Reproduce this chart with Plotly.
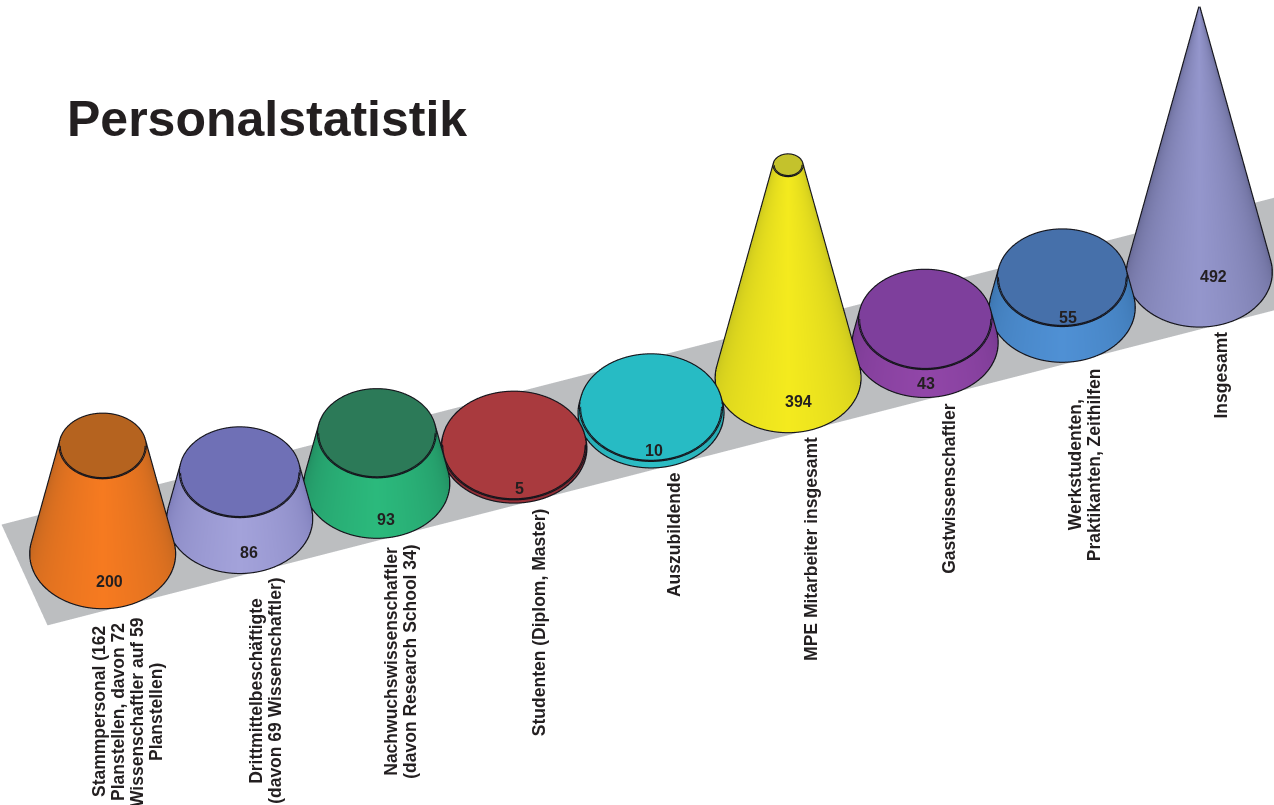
import numpy as np
import plotly.graph_objects as go

# ---- data ----
categories = [
    ["Stammpersonal (162", "Planstellen, davon 72", "Wissenschaftler auf 59", "Planstellen)"],
    ["Drittmittelbeschäftigte", "(davon 69 Wissenschaftler)"],
    ["Nachwuchswissenschaftler", "(davon Research School 34)"],
    ["Studenten (Diplom, Master)"],
    ["Auszubildende"],
    ["MPE Mitarbeiter insgesamt"],
    ["Gastwissenschaftler"],
    ["Werkstudenten,", "Praktikanten, Zeithilfen"],
    ["Insgesamt"],
]
values = [200, 86, 93, 5, 10, 394, 43, 55, 492]

side_light = ["#F67A20", "#A3A2DA", "#2BB97C", "#9A3038", "#2CBEC6", "#F4EA1E", "#9146A8", "#4F90D4", "#9496CC"]
side_dark = ["#A85C20", "#6E6EAC", "#1E7A55", "#5E1E26", "#1F8F96", "#B4B41E", "#6A3384", "#33689E", "#565880"]
cap_color = ["#B5631F", "#6F70B6", "#2C7A58", "#A93A3E", "#27BBC4", "#C4C22C", "#7E3F9C", "#4670AA", "#9496CC"]
strip_color = "#BCBEC0"
text_color = "#231F20"

value_shift = [(7, 28), (9, 34), (9, 36), (6, 40), (3, 37), (10, 24), (1, 41), (6, 10), (14, 4)]
label_shift = [(25, 158), (25, 172), (24, 178), (25, 174), (23, 122), (23, 171), (23, 146), (23, 157), (22, 103)]
LINE_STEP = 19.0

# ---- view ----
K = 0.36                     # scene units per category step
R = 0.5                      # base radius in category steps
X_RANGE = [-1.0, 9.5]
Y_RANGE = [-1.0, 1.0]
Z_RANGE = [-5.0, 492.0]
H_UNITS = 2.77               # apex height in category steps
THETA = np.radians(18.9)
ELEV = np.radians(48.6)
PX_PER_SCENE = 144.8 / K
ZOOM_DIST = 2.5

vmax = max(values)
aspect = dict(
    x=(X_RANGE[1] - X_RANGE[0]) * K,
    y=(Y_RANGE[1] - Y_RANGE[0]) * K,
    z=H_UNITS * K * (Z_RANGE[1] - Z_RANGE[0]) / vmax,
)


def to_scene(x, y, z):
    return np.array([
        (x - sum(X_RANGE) / 2) / (X_RANGE[1] - X_RANGE[0]) * aspect["x"],
        (y - sum(Y_RANGE) / 2) / (Y_RANGE[1] - Y_RANGE[0]) * aspect["y"],
        (z - sum(Z_RANGE) / 2) / (Z_RANGE[1] - Z_RANGE[0]) * aspect["z"],
    ])


eye_dir = np.array([-np.sin(THETA) * np.cos(ELEV), -np.cos(THETA) * np.cos(ELEV), np.sin(ELEV)])
right = np.array([np.cos(THETA), -np.sin(THETA), 0.0])
up = np.cross(right, -eye_dir)
center = to_scene(4, 0, 0) - 14 / PX_PER_SCENE * right + 10.5 / PX_PER_SCENE * up
eye = center + ZOOM_DIST * eye_dir

phi0 = np.arctan2(eye_dir[1], eye_dir[0])
slope = R / H_UNITS
phi_s = np.arccos(-eye_dir[2] * slope / np.hypot(eye_dir[0], eye_dir[1]))

FLAT = dict(ambient=1, diffuse=0, specular=0, fresnel=0, roughness=1)
fig = go.Figure()

# ground strip
sx, sy = np.meshgrid([-0.57, 9.5], [-0.49, 0.49])
fig.add_trace(go.Surface(x=sx, y=sy, z=np.full(sx.shape, -2.0), surfacecolor=np.zeros(sx.shape),
                         colorscale=[[0, strip_color], [1, strip_color]], showscale=False,
                         lighting=FLAT, hoverinfo="skip"))

phi = phi0 + np.pi + np.linspace(0, 2 * np.pi, 241)
for i, v in enumerate(values):
    zs = np.linspace(0, v, 30)
    P, Z = np.meshgrid(phi, zs)
    Rad = R * (1 - Z / vmax)
    X = i + Rad * np.cos(P)
    Y = Rad * np.sin(P)
    delta = np.abs((P - phi0 + np.pi) % (2 * np.pi) - np.pi)
    shade = np.clip(1 - delta / phi_s, 0, 1) ** 0.45
    fig.add_trace(go.Surface(x=X, y=Y, z=Z, surfacecolor=shade, cmin=0, cmax=1,
                             colorscale=[[0, side_dark[i]], [1, side_light[i]]], showscale=False,
                             lighting=FLAT, hoverinfo="skip"))
    r_top = R * (1 - v / vmax)
    if r_top > 0:
        rr = np.linspace(0, r_top, 3)
        Pc, Rc = np.meshgrid(phi, rr)
        fig.add_trace(go.Surface(x=i + Rc * np.cos(Pc), y=Rc * np.sin(Pc), z=np.full(Pc.shape, float(v)),
                                 surfacecolor=np.zeros(Pc.shape),
                                 colorscale=[[0, cap_color[i]], [1, cap_color[i]]], showscale=False,
                                 lighting=FLAT, hoverinfo="skip"))
    # outline: base circle, top circle, silhouette edges
    lx, ly, lz = [], [], []
    for zz, rr_ in ((0.0, R), (float(v), r_top)):
        lx += list(i + rr_ * np.cos(phi)) + [None]
        ly += list(rr_ * np.sin(phi)) + [None]
        lz += [zz] * len(phi) + [None]
    for a in (phi0 + phi_s, phi0 - phi_s):
        lx += [i + R * np.cos(a), i + r_top * np.cos(a), None]
        ly += [R * np.sin(a), r_top * np.sin(a), None]
        lz += [0.0, float(v), None]
    fig.add_trace(go.Scatter3d(x=lx, y=ly, z=lz, mode="lines", line=dict(color="#15151c", width=4.5),
                               hoverinfo="skip", showlegend=False))

annots = []
for i, (lines, v) in enumerate(zip(categories, values)):
    annots.append(dict(x=i, y=0, z=0, text=f"<b>{v}</b>", showarrow=False,
                       xshift=value_shift[i][0], yshift=-value_shift[i][1],
                       font=dict(family="Liberation Sans", size=16, color=text_color)))
    n = len(lines)
    for j, line in enumerate(lines):
        annots.append(dict(x=i, y=0, z=0, text=f"<b>{line}</b>", showarrow=False, textangle=-90,
                           xanchor="center", yanchor="middle",
                           xshift=label_shift[i][0] + (j - (n - 1) / 2) * LINE_STEP,
                           yshift=-label_shift[i][1],
                           font=dict(family="Liberation Sans", size=17.5, color=text_color)))

hidden = dict(visible=False, showgrid=False, zeroline=False, showticklabels=False, showspikes=False)
fig.update_layout(
    width=1274, height=805, margin=dict(l=0, r=0, t=0, b=0), paper_bgcolor="white",
    showlegend=False,
    title=dict(text="<b>Personalstatistik</b>", x=67 / 1274, y=1 - 118 / 805, xanchor="left", yanchor="middle",
               xref="paper", yref="paper", font=dict(family="Liberation Sans", size=50, color=text_color)),
    scene=dict(
        domain=dict(x=[0, 1], y=[0, 1]),
        xaxis=dict(range=X_RANGE, **hidden),
        yaxis=dict(range=Y_RANGE, **hidden),
        zaxis=dict(range=Z_RANGE, **hidden),
        aspectmode="manual", aspectratio=aspect,
        camera=dict(projection=dict(type="orthographic"),
                    up=dict(x=0, y=0, z=1),
                    center=dict(x=center[0], y=center[1], z=center[2]),
                    eye=dict(x=eye[0], y=eye[1], z=eye[2])),
        annotations=annots,
    ),
)
fig.write_html("out.html", default_width="1274px", default_height="805px",
               config=dict(displayModeBar=False),
               post_script="document.body.style.margin='0';document.body.style.overflow='hidden';")
